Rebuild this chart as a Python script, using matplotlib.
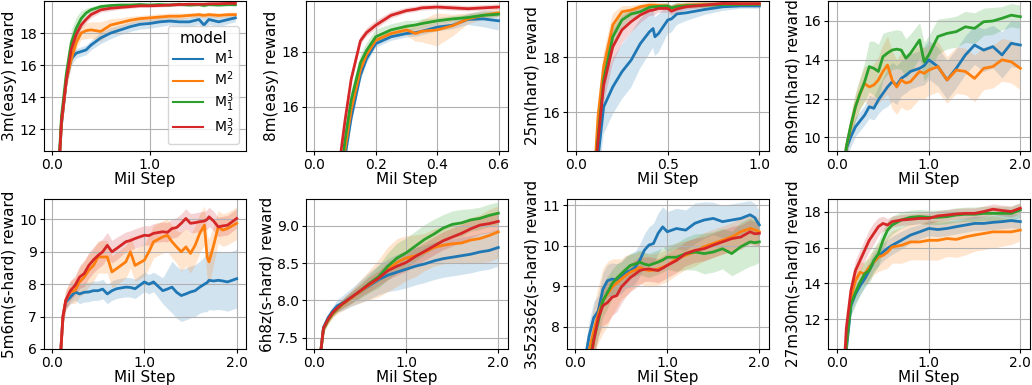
import numpy as np
import matplotlib
matplotlib.use('Agg')
import matplotlib.pyplot as plt
from matplotlib.lines import Line2D
from matplotlib.ticker import FormatStrFormatter

plt.rcParams['font.size'] = 11
plt.rcParams['xtick.labelsize'] = 10
plt.rcParams['ytick.labelsize'] = 10
plt.rcParams['xtick.major.size'] = 3
plt.rcParams['ytick.major.size'] = 3
plt.rcParams['xtick.major.pad'] = 2
plt.rcParams['ytick.major.pad'] = 2

models = ['M$^1$', 'M$^2$', 'M$_1^3$', 'M$_2^3$']
colors = ['tab:blue', 'tab:orange', 'tab:green', 'tab:red']

# ---- 3m (easy)
x_3m = [0, 0.05, 0.1, 0.15, 0.2, 0.25, 0.3, 0.35, 0.4, 0.5, 0.6, 0.7, 0.8, 0.9, 1.0,
        1.1, 1.2, 1.3, 1.4, 1.5, 1.55, 1.6, 1.7, 1.8, 1.87]
m1_3m = [4.0, 7.0, 12.3, 15.1, 16.4, 16.75, 16.85, 16.95, 17.25, 17.7, 18.0, 18.2, 18.4, 18.55, 18.6,
         18.7, 18.75, 18.7, 18.7, 18.85, 18.5, 18.85, 18.7, 18.85, 18.95]
m2_3m = [4.0, 7.0, 12.4, 15.1, 16.4, 17.4, 18.0, 18.15, 18.2, 18.1, 18.5, 18.65, 18.8, 18.9, 18.95,
         19.0, 19.05, 19.05, 19.1, 19.15, 19.1, 19.15, 19.1, 19.15, 19.15]
m31_3m = [4.0, 7.2, 12.8, 15.5, 17.4, 18.3, 18.9, 19.25, 19.45, 19.65, 19.72, 19.75, 19.75, 19.78, 19.75,
          19.78, 19.75, 19.8, 19.75, 19.78, 19.72, 19.78, 19.75, 19.78, 19.77]
m32_3m = [4.0, 7.0, 12.5, 15.1, 17.0, 17.9, 18.5, 18.85, 19.15, 19.45, 19.55, 19.6, 19.65, 19.7, 19.7,
          19.72, 19.75, 19.78, 19.8, 19.8, 19.8, 19.82, 19.83, 19.85, 19.85]
sd1_3m = [0.5, 0.5, 0.5, 0.5, 0.4, 0.3, 0.3, 0.3, 0.3, 0.35, 0.35, 0.3, 0.3, 0.3, 0.3,
          0.3, 0.25, 0.25, 0.3, 0.3, 0.5, 0.3, 0.3, 0.25, 0.25]
sd2_3m = [0.5, 0.5, 0.5, 0.5, 0.4, 0.4, 0.4, 0.5, 0.5, 0.6, 0.4, 0.3, 0.25, 0.2, 0.2,
          0.2, 0.2, 0.2, 0.15, 0.15, 0.15, 0.15, 0.15, 0.15, 0.15]
sd31_3m = [0.8, 0.8, 0.8, 0.8, 0.8, 0.7, 0.5, 0.3, 0.2, 0.15, 0.1, 0.1, 0.1, 0.1, 0.1,
           0.1, 0.1, 0.1, 0.1, 0.1, 0.1, 0.1, 0.1, 0.1, 0.1]
sd32_3m = [0.3, 0.3, 0.3, 0.3, 0.3, 0.3, 0.25, 0.2, 0.2, 0.15, 0.15, 0.1, 0.1, 0.1, 0.1,
           0.1, 0.1, 0.1, 0.1, 0.1, 0.1, 0.1, 0.1, 0.1, 0.1]

# ---- 8m (easy)
x_8m = [0, 0.05, 0.08, 0.1, 0.12, 0.15, 0.17, 0.2, 0.25, 0.3, 0.33, 0.35, 0.4, 0.45, 0.5, 0.55, 0.6]
m1_8m = [5.0, 9.0, 12.5, 14.2, 15.6, 17.15, 17.75, 18.3, 18.55, 18.67, 18.7, 18.75, 18.9, 18.97, 19.18, 19.2, 19.13]
m2_8m = [5.0, 9.0, 12.7, 14.45, 15.9, 17.35, 17.9, 18.42, 18.67, 18.8, 18.67, 18.75, 18.8, 18.95, 19.2, 19.33, 19.42]
m31_8m = [5.0, 9.0, 12.9, 14.8, 16.25, 17.6, 18.05, 18.55, 18.8, 18.93, 18.98, 19.03, 19.13, 19.2, 19.25, 19.33, 19.37]
m32_8m = [5.0, 9.5, 13.8, 15.5, 17.0, 18.4, 18.7, 18.97, 19.33, 19.5, 19.55, 19.6, 19.63, 19.6, 19.57, 19.6, 19.63]
sd1_8m = [0.3, 0.3, 0.3, 0.3, 0.3, 0.25, 0.2, 0.15, 0.15, 0.15, 0.15, 0.15, 0.15, 0.15, 0.2, 0.3, 0.35]
sd2_8m = [0.3, 0.3, 0.3, 0.3, 0.3, 0.2, 0.15, 0.15, 0.15, 0.2, 0.3, 0.4, 0.6, 0.4, 0.2, 0.15, 0.15]
sd31_8m = [0.3, 0.3, 0.3, 0.3, 0.3, 0.25, 0.25, 0.25, 0.2, 0.2, 0.15, 0.15, 0.1, 0.1, 0.1, 0.1, 0.1]
sd32_8m = [0.2, 0.2, 0.2, 0.2, 0.2, 0.15, 0.15, 0.15, 0.12, 0.1, 0.1, 0.1, 0.1, 0.1, 0.1, 0.1, 0.1]

# ---- 25m (hard)
x_25m = [0, 0.05, 0.1, 0.12, 0.15, 0.2, 0.25, 0.3, 0.35, 0.4, 0.42, 0.43, 0.45, 0.5, 0.52, 0.55,
         0.6, 0.7, 0.8, 0.9, 1.0]
m1_25m = [5.0, 9.0, 13.0, 14.4, 16.2, 16.93, 17.48, 17.9, 18.5, 18.93, 19.05, 18.75, 18.87, 19.36, 19.4, 19.58,
          19.62, 19.74, 19.84, 19.87, 19.87]
m2_25m = [5.0, 9.0, 13.8, 15.9, 17.66, 19.18, 19.66, 19.72, 19.84, 19.9, 19.9, 19.9, 19.88, 19.87, 19.8, 19.87,
          19.9, 19.92, 19.94, 19.94, 19.94]
m31_25m = [5.0, 9.0, 13.5, 15.1, 17.18, 18.75, 19.36, 19.58, 19.66, 19.82, 19.84, 19.84, 19.85, 19.87, 19.8, 19.85,
           19.88, 19.9, 19.92, 19.92, 19.93]
m32_25m = [5.0, 9.0, 13.4, 15.0, 17.0, 18.39, 19.0, 19.3, 19.54, 19.7, 19.72, 19.74, 19.78, 19.78, 19.68, 19.76,
           19.84, 19.9, 19.96, 19.95, 19.95]
sd1_25m = [0.8, 0.8, 0.8, 0.9, 1.0, 1.0, 1.0, 1.0, 0.9, 0.8, 0.7, 0.7, 0.7, 0.5, 0.5, 0.4,
           0.3, 0.2, 0.15, 0.1, 0.1]
sd2_25m = [0.4, 0.4, 0.4, 0.5, 0.5, 0.4, 0.2, 0.15, 0.1, 0.1, 0.1, 0.1, 0.1, 0.1, 0.1, 0.1,
           0.1, 0.1, 0.08, 0.08, 0.08]
sd31_25m = [0.4, 0.4, 0.4, 0.5, 0.5, 0.5, 0.3, 0.2, 0.15, 0.1, 0.1, 0.1, 0.1, 0.1, 0.1, 0.1,
            0.1, 0.1, 0.08, 0.08, 0.08]
sd32_25m = [0.5, 0.5, 0.5, 0.6, 0.7, 0.6, 0.5, 0.4, 0.3, 0.2, 0.2, 0.2, 0.15, 0.15, 0.15, 0.15,
            0.12, 0.1, 0.08, 0.08, 0.08]

# ---- 8m9m (hard), no M_2^3 run
x_8m9m = [0, 0.05, 0.1, 0.15, 0.2, 0.25, 0.3, 0.35, 0.4, 0.45, 0.5, 0.55, 0.6, 0.65, 0.7, 0.75, 0.8,
          0.9, 0.95, 1.0, 1.1, 1.2, 1.3, 1.4, 1.5, 1.6, 1.7, 1.8, 1.9, 2.0]
m1_8m9m = [5.0, 6.8, 9.44, 10.04, 10.55, 10.85, 11.15, 11.58, 11.5, 11.93, 12.27, 12.6, 12.87, 12.7, 13.04,
           13.2, 13.4, 13.56, 13.7, 14.0, 13.65, 12.96, 13.56, 14.25, 14.76, 14.5, 14.68, 14.25, 14.85, 14.76]
m2_8m9m = [5.0, 7.0, 9.52, 10.55, 11.58, 12.27, 12.78, 12.6, 12.7, 12.96, 13.4, 13.73, 12.96, 12.6, 12.96,
           12.8, 12.87, 13.4, 13.3, 13.47, 13.65, 12.96, 13.47, 13.4, 13.04, 13.56, 13.65, 14.0, 13.9, 13.56]
m31_8m9m = [5.0, 7.0, 9.52, 10.64, 11.58, 12.27, 12.87, 13.65, 13.56, 13.4, 14.16, 14.35, 14.5, 14.55, 14.5,
            14.08, 14.33, 15.02, 13.9, 14.25, 15.2, 15.36, 15.45, 15.7, 15.62, 15.96, 16.0, 16.14, 16.3, 16.22]
sd1_8m9m = [0.5, 0.5, 0.5, 0.5, 0.5, 0.5, 0.5, 0.6, 0.6, 0.7, 0.8, 1.0, 1.0, 1.0, 0.9,
            0.9, 0.9, 0.9, 1.0, 1.0, 1.0, 1.0, 1.0, 1.0, 1.0, 1.1, 1.1, 1.2, 1.2, 1.2]
sd2_8m9m = [0.5, 0.5, 0.5, 0.6, 0.7, 0.8, 0.9, 1.0, 1.1, 1.2, 1.4, 1.5, 1.5, 1.4, 1.4,
            1.4, 1.4, 1.4, 1.3, 1.3, 1.3, 1.2, 1.2, 1.2, 1.2, 1.1, 1.1, 1.1, 1.1, 1.1]
sd31_8m9m = [0.5, 0.5, 0.5, 0.6, 0.7, 0.8, 1.0, 1.3, 1.4, 1.4, 1.2, 1.1, 1.0, 1.0, 1.0,
             1.0, 1.0, 0.9, 1.0, 1.0, 0.9, 0.8, 0.8, 0.8, 0.8, 0.7, 0.7, 0.6, 0.6, 0.6]

# ---- 5m6m (s-hard), no M_1^3 run
x_5m6m = [0, 0.05, 0.1, 0.12, 0.15, 0.2, 0.25, 0.3, 0.35, 0.4, 0.45, 0.5, 0.55, 0.6, 0.65, 0.7, 0.8,
          0.85, 0.9, 1.0, 1.05, 1.1, 1.2, 1.25, 1.3, 1.35, 1.4, 1.45, 1.5, 1.55, 1.6, 1.65, 1.68,
          1.7, 1.75, 1.8, 1.85, 1.9, 2.0]
m1_5m6m = [2.0, 3.5, 6.1, 7.0, 7.45, 7.6, 7.76, 7.7, 7.75, 7.76, 7.8, 7.8, 7.85, 7.7, 7.8, 7.86, 7.91,
           7.9, 7.86, 8.07, 8.0, 8.07, 7.8, 7.85, 7.91, 7.75, 7.65, 7.7, 7.76, 7.8, 7.91, 8.0, 8.05,
           8.12, 8.1, 8.12, 8.1, 8.07, 8.17]
m2_5m6m = [2.0, 3.5, 6.1, 7.0, 7.5, 7.76, 7.8, 8.07, 8.22, 8.43, 8.58, 8.84, 8.84, 8.84, 8.38, 8.48, 8.69,
           9.0, 8.58, 8.74, 9.0, 9.31, 9.46, 9.51, 9.31, 9.15, 9.0, 9.15, 8.95, 9.2, 9.57, 9.82, 8.84,
           8.69, 9.2, 9.77, 9.67, 9.72, 9.88]
m32_5m6m = [2.0, 3.5, 6.1, 7.0, 7.5, 7.8, 7.96, 8.22, 8.33, 8.58, 8.75, 8.89, 9.0, 9.2, 9.0, 9.1, 9.31,
            9.35, 9.41, 9.51, 9.5, 9.57, 9.62, 9.6, 9.72, 9.75, 9.88, 10.03, 9.88, 9.9, 9.93, 9.95, 10.0,
            10.08, 9.95, 9.77, 9.8, 9.82, 10.03]
sd1_5m6m = [0.2, 0.2, 0.2, 0.2, 0.2, 0.2, 0.25, 0.3, 0.3, 0.3, 0.3, 0.3, 0.3, 0.3, 0.3, 0.3, 0.3,
            0.3, 0.3, 0.3, 0.3, 0.3, 0.4, 0.6, 0.8, 0.8, 0.8, 0.8, 0.8, 0.8, 0.8, 0.85, 0.9,
            0.9, 0.9, 0.9, 0.9, 0.9, 0.9]
sd2_5m6m = [0.3, 0.3, 0.3, 0.3, 0.3, 0.35, 0.4, 0.45, 0.5, 0.5, 0.5, 0.5, 0.5, 0.5, 0.5, 0.5, 0.5,
            0.5, 0.5, 0.5, 0.5, 0.5, 0.5, 0.5, 0.5, 0.5, 0.6, 0.6, 0.6, 0.6, 0.6, 0.6, 0.7,
            0.7, 0.6, 0.5, 0.5, 0.5, 0.5]
sd32_5m6m = [0.3, 0.3, 0.3, 0.3, 0.3, 0.3, 0.3, 0.35, 0.4, 0.4, 0.4, 0.4, 0.4, 0.4, 0.35, 0.35, 0.3,
             0.3, 0.3, 0.3, 0.3, 0.3, 0.3, 0.3, 0.3, 0.3, 0.3, 0.3, 0.3, 0.3, 0.3, 0.3, 0.3,
             0.3, 0.3, 0.3, 0.3, 0.3, 0.3]

# ---- 6h8z (s-hard)
x_6h8z = [0, 0.05, 0.1, 0.15, 0.2, 0.25, 0.3, 0.4, 0.5, 0.6, 0.7, 0.8, 0.9, 1.0,
          1.1, 1.2, 1.3, 1.4, 1.5, 1.6, 1.7, 1.8, 1.9, 2.0]
m1_6h8z = [5.0, 7.1, 7.64, 7.77, 7.86, 7.93, 7.96, 8.04, 8.12, 8.2, 8.28, 8.34, 8.38, 8.42,
           8.46, 8.49, 8.53, 8.56, 8.58, 8.6, 8.62, 8.65, 8.67, 8.71]
m2_6h8z = [5.0, 7.1, 7.62, 7.73, 7.82, 7.88, 7.94, 8.03, 8.12, 8.21, 8.3, 8.42, 8.51, 8.57,
           8.6, 8.65, 8.71, 8.74, 8.76, 8.77, 8.81, 8.83, 8.87, 8.92]
m31_6h8z = [5.0, 7.1, 7.62, 7.74, 7.83, 7.89, 7.95, 8.04, 8.13, 8.23, 8.32, 8.46, 8.57, 8.64,
            8.73, 8.82, 8.89, 8.97, 9.02, 9.04, 9.08, 9.1, 9.14, 9.17]
m32_6h8z = [5.0, 7.1, 7.63, 7.75, 7.84, 7.9, 7.95, 8.04, 8.13, 8.22, 8.3, 8.4, 8.46, 8.51,
            8.59, 8.66, 8.73, 8.8, 8.85, 8.9, 8.96, 9.01, 9.03, 9.06]
sd1_6h8z = [0.05, 0.05, 0.05, 0.05, 0.06, 0.08, 0.1, 0.12, 0.15, 0.18, 0.2, 0.22, 0.24, 0.25,
            0.25, 0.25, 0.25, 0.25, 0.25, 0.25, 0.25, 0.25, 0.25, 0.25]
sd2_6h8z = [0.05, 0.05, 0.05, 0.05, 0.05, 0.06, 0.08, 0.1, 0.15, 0.2, 0.25, 0.3, 0.32, 0.3,
            0.28, 0.25, 0.25, 0.25, 0.25, 0.28, 0.3, 0.32, 0.35, 0.35]
sd31_6h8z = [0.05, 0.05, 0.05, 0.05, 0.05, 0.05, 0.06, 0.08, 0.1, 0.12, 0.15, 0.18, 0.2, 0.2,
             0.2, 0.2, 0.2, 0.18, 0.18, 0.18, 0.15, 0.15, 0.15, 0.15]
sd32_6h8z = [0.05, 0.05, 0.05, 0.05, 0.05, 0.05, 0.06, 0.08, 0.08, 0.1, 0.1, 0.12, 0.12, 0.12,
             0.12, 0.12, 0.12, 0.12, 0.12, 0.12, 0.12, 0.12, 0.12, 0.12]

# ---- 3s5z3s6z (s-hard)
x_3s = [0, 0.05, 0.1, 0.15, 0.2, 0.25, 0.3, 0.35, 0.4, 0.45, 0.5, 0.55, 0.6, 0.65, 0.7, 0.75,
        0.8, 0.85, 0.9, 0.95, 1.0, 1.1, 1.2, 1.3, 1.4, 1.5, 1.6, 1.7, 1.8, 1.9, 1.95, 2.0]
m1_3s = [5.0, 6.0, 7.1, 7.77, 8.22, 8.39, 8.93, 9.14, 9.18, 9.16, 9.22, 9.35, 9.39, 9.47, 9.64, 9.89,
         10.02, 10.06, 10.31, 10.47, 10.35, 10.43, 10.39, 10.56, 10.64, 10.68, 10.6, 10.64, 10.68, 10.77, 10.7, 10.52]
m2_3s = [5.0, 5.8, 6.8, 7.4, 7.89, 8.31, 8.64, 8.81, 8.98, 9.08, 9.18, 9.27, 9.35, 9.4, 9.47, 9.42,
         9.39, 9.4, 9.43, 9.47, 9.52, 9.68, 9.77, 9.85, 9.98, 10.06, 10.14, 10.22, 10.35, 10.43, 10.4, 10.35]
m31_3s = [5.0, 5.6, 6.4, 7.0, 7.68, 8.14, 8.64, 8.85, 9.06, 9.2, 9.31, 9.42, 9.52, 9.55, 9.6, 9.55,
          9.52, 9.56, 9.6, 9.65, 9.72, 9.72, 9.81, 9.85, 9.81, 9.85, 9.93, 9.81, 9.98, 10.1, 10.08, 10.1]
m32_3s = [5.0, 5.6, 6.4, 6.95, 7.64, 8.22, 8.52, 8.6, 8.73, 8.77, 8.98, 9.1, 9.22, 9.3, 9.39, 9.42,
          9.43, 9.41, 9.39, 9.45, 9.52, 9.64, 9.81, 9.89, 9.93, 10.02, 10.1, 10.18, 10.22, 10.35, 10.3, 10.31]
sd1_3s = [0.3, 0.3, 0.3, 0.35, 0.4, 0.4, 0.4, 0.4, 0.4, 0.4, 0.4, 0.4, 0.4, 0.4, 0.4, 0.4,
          0.45, 0.5, 0.5, 0.5, 0.5, 0.5, 0.5, 0.5, 0.45, 0.4, 0.4, 0.4, 0.4, 0.35, 0.35, 0.35]
sd2_3s = [0.4, 0.4, 0.4, 0.5, 0.6, 0.7, 0.8, 0.8, 0.7, 0.6, 0.5, 0.5, 0.45, 0.4, 0.4, 0.4,
          0.4, 0.4, 0.4, 0.4, 0.4, 0.4, 0.35, 0.35, 0.35, 0.35, 0.35, 0.35, 0.35, 0.35, 0.35, 0.35]
sd31_3s = [0.3, 0.3, 0.3, 0.35, 0.4, 0.4, 0.4, 0.4, 0.35, 0.35, 0.3, 0.3, 0.3, 0.3, 0.3, 0.3,
           0.3, 0.3, 0.3, 0.3, 0.3, 0.35, 0.4, 0.45, 0.5, 0.5, 0.5, 0.55, 0.6, 0.6, 0.55, 0.5]
sd32_3s = [0.3, 0.3, 0.3, 0.35, 0.4, 0.45, 0.5, 0.5, 0.45, 0.4, 0.4, 0.35, 0.35, 0.35, 0.35, 0.3,
           0.3, 0.3, 0.3, 0.3, 0.3, 0.3, 0.3, 0.3, 0.3, 0.3, 0.3, 0.3, 0.3, 0.3, 0.3, 0.3]

# ---- 27m30m (s-hard)
x_27m = [0, 0.05, 0.1, 0.15, 0.2, 0.25, 0.3, 0.35, 0.4, 0.45, 0.5, 0.55, 0.6,
         0.7, 0.8, 0.9, 1.0, 1.1, 1.2, 1.3, 1.4, 1.5, 1.6, 1.7, 1.8, 1.9, 2.0]
m1_27m = [5.0, 7.0, 10.3, 12.75, 13.4, 13.87, 14.25, 14.72, 15.19, 15.47, 15.75, 15.95, 16.12,
          16.4, 16.69, 16.87, 17.06, 17.0, 17.06, 17.16, 17.25, 17.34, 17.34, 17.4, 17.44, 17.5, 17.44]
m2_27m = [5.0, 7.0, 10.6, 13.22, 14.15, 14.62, 14.53, 14.9, 15.19, 15.47, 15.56, 15.75, 16.03,
          16.12, 16.31, 16.31, 16.4, 16.4, 16.5, 16.45, 16.59, 16.69, 16.78, 16.87, 16.87, 16.87, 16.97]
m31_27m = [5.0, 7.0, 10.6, 12.84, 13.5, 14.06, 14.53, 14.72, 15.28, 15.65, 16.4, 16.97, 17.25,
           17.53, 17.68, 17.72, 17.68, 17.68, 17.72, 17.81, 17.85, 17.85, 17.9, 17.9, 17.9, 17.9, 18.09]
m32_27m = [5.0, 7.0, 11.5, 13.6, 14.72, 15.28, 15.84, 16.4, 16.78, 17.16, 17.34, 17.25, 17.44,
           17.53, 17.57, 17.62, 17.62, 17.76, 17.81, 17.87, 17.9, 17.9, 18.0, 18.13, 18.06, 18.0, 18.19]
sd1_27m = [0.5, 0.5, 0.5, 0.5, 0.5, 0.5, 0.5, 0.5, 0.5, 0.5, 0.5, 0.5, 0.5,
           0.5, 0.45, 0.4, 0.4, 0.4, 0.4, 0.4, 0.4, 0.4, 0.4, 0.4, 0.4, 0.4, 0.4]
sd2_27m = [0.5, 0.5, 0.5, 0.6, 0.6, 0.6, 0.6, 0.7, 0.7, 0.8, 0.8, 0.9, 0.9,
           1.0, 1.0, 1.0, 1.1, 1.1, 1.0, 1.0, 1.0, 0.9, 0.9, 0.9, 0.8, 0.7, 0.6]
sd31_27m = [0.5, 0.5, 0.5, 0.6, 0.7, 0.7, 0.7, 0.7, 0.7, 0.7, 0.6, 0.5, 0.5,
            0.45, 0.4, 0.4, 0.4, 0.4, 0.4, 0.4, 0.4, 0.4, 0.4, 0.4, 0.4, 0.4, 0.4]
sd32_27m = [0.5, 0.5, 0.5, 0.6, 0.6, 0.6, 0.6, 0.6, 0.6, 0.5, 0.4, 0.35, 0.3,
            0.3, 0.3, 0.3, 0.3, 0.3, 0.3, 0.3, 0.3, 0.3, 0.3, 0.3, 0.3, 0.3, 0.3]

panels = [
    ('3m(easy) reward', x_3m, [m1_3m, m2_3m, m31_3m, m32_3m], [sd1_3m, sd2_3m, sd31_3m, sd32_3m]),
    ('8m(easy) reward', x_8m, [m1_8m, m2_8m, m31_8m, m32_8m], [sd1_8m, sd2_8m, sd31_8m, sd32_8m]),
    ('25m(hard) reward', x_25m, [m1_25m, m2_25m, m31_25m, m32_25m], [sd1_25m, sd2_25m, sd31_25m, sd32_25m]),
    ('8m9m(hard) reward', x_8m9m, [m1_8m9m, m2_8m9m, m31_8m9m, None], [sd1_8m9m, sd2_8m9m, sd31_8m9m, None]),
    ('5m6m(s-hard) reward', x_5m6m, [m1_5m6m, m2_5m6m, None, m32_5m6m], [sd1_5m6m, sd2_5m6m, None, sd32_5m6m]),
    ('6h8z(s-hard) reward', x_6h8z, [m1_6h8z, m2_6h8z, m31_6h8z, m32_6h8z], [sd1_6h8z, sd2_6h8z, sd31_6h8z, sd32_6h8z]),
    ('3s5z3s6z(s-hard) reward', x_3s, [m1_3s, m2_3s, m31_3s, m32_3s], [sd1_3s, sd2_3s, sd31_3s, sd32_3s]),
    ('27m30m(s-hard) reward', x_27m, [m1_27m, m2_27m, m31_27m, m32_27m], [sd1_27m, sd2_27m, sd31_27m, sd32_27m]),
]

# axis ranges / ticks per panel
xlims = [(-0.078, 1.973), (-0.027, 0.629), (-0.05, 1.05), (-0.1, 2.1),
         (-0.085, 2.095), (-0.09, 2.1), (-0.09, 2.1), (-0.1, 2.1)]
ylims = [(10.65, 20.0), (14.4, 19.85), (14.6, 20.05), (9.3, 17.03),
         (6.0, 10.63), (7.35, 9.36), (7.45, 11.16), (10.35, 18.7)]
xticks = [[0, 1], [0, 0.2, 0.4, 0.6], [0, 0.5, 1], [0, 1, 2], [0, 1, 2], [0, 1, 2], [0, 1, 2], [0, 1, 2]]
yticks = [[12, 14, 16, 18], [16, 18], [16, 18], [10, 12, 14, 16],
          [6, 7, 8, 9, 10], [7.5, 8.0, 8.5, 9.0], [8, 9, 10, 11], [12, 14, 16, 18]]

W, H = 1032, 385
fig = plt.figure(figsize=(W / 100, H / 100), dpi=100)
lefts = [44, 306, 567, 828]
tops = [1, 199]
aw, ah = 201.5, 150

for i, (lab, x, means, sds) in enumerate(panels):
    r, c = divmod(i, 4)
    ax = fig.add_axes([lefts[c] / W, (H - tops[r] - ah) / H, aw / W, ah / H])
    x = np.array(x)
    for m, s, col in zip(means, sds, colors):
        if m is None:
            continue
        m = np.array(m)
        s = np.array(s)
        ax.fill_between(x, m - s, m + s, color=col, alpha=0.2, lw=0)
        ax.plot(x, m, color=col, lw=2)
    ax.set_xlim(*xlims[i])
    ax.set_ylim(*ylims[i])
    ax.set_xticks(xticks[i])
    ax.set_yticks(yticks[i])
    ax.xaxis.set_major_formatter(FormatStrFormatter('%.1f'))
    if i == 5:
        ax.yaxis.set_major_formatter(FormatStrFormatter('%.1f'))
    ax.grid(True)
    ax.set_xlabel('Mil Step', labelpad=0)
    ax.set_ylabel(lab, labelpad=2)
    if i == 0:
        handles = [Line2D([], [], color=col, lw=1.5) for col in colors]
        ax.legend(handles, models, title='model', loc='lower right',
                  fontsize=10, title_fontsize=11, labelspacing=0.2,
                  borderpad=0.35, handlelength=2.2)

fig.savefig('out.png', dpi=100)
